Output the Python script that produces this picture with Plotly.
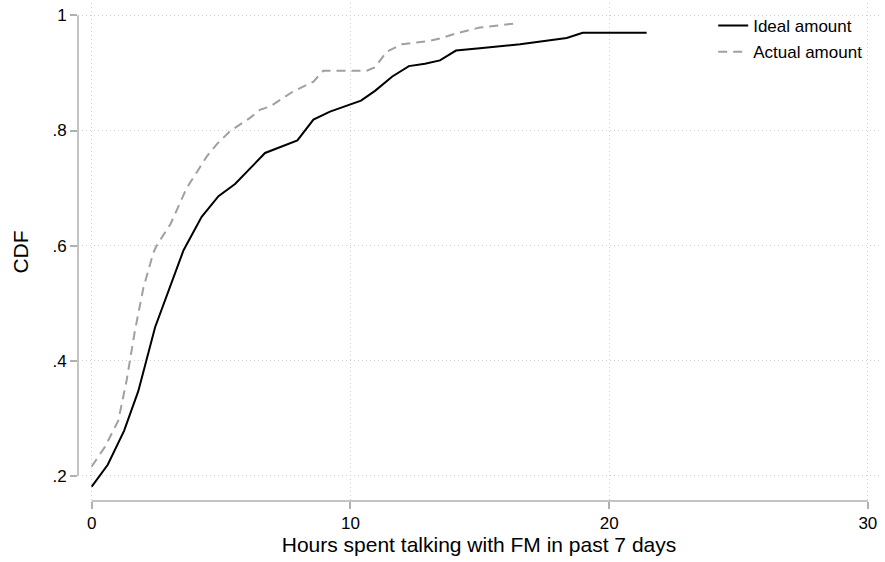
import plotly.graph_objects as go

# Data
ideal_x = [0, 0.62, 1.25, 1.8, 2.45, 3.03, 3.55, 4.25, 4.9, 5.54, 6.7, 7.95, 8.57,
           9.21, 9.98, 10.41, 10.95, 11.62, 12.26, 12.88, 13.46, 14.08, 15.0, 16.56,
           18.36, 18.98, 21.45]
ideal_y = [0.181, 0.219, 0.278, 0.347, 0.458, 0.530, 0.592, 0.650, 0.686, 0.707, 0.761,
           0.783, 0.819, 0.833, 0.845, 0.852, 0.869, 0.894, 0.912, 0.916, 0.922, 0.939,
           0.943, 0.950, 0.961, 0.970, 0.970]

actual_x = [0, 0.51, 1.03, 1.35, 1.67, 2.0, 2.38, 2.51, 3.05, 3.67, 4.45, 4.83, 5.35,
            6.12, 6.5, 6.9, 7.79, 8.57, 8.95, 10.63, 10.95, 11.4, 12.0, 13.08, 13.46,
            14.1, 15.0, 16.35]
actual_y = [0.216, 0.250, 0.296, 0.366, 0.452, 0.527, 0.587, 0.600, 0.638, 0.700, 0.755,
            0.776, 0.799, 0.822, 0.836, 0.842, 0.868, 0.885, 0.904, 0.904, 0.910, 0.937,
            0.950, 0.956, 0.960, 0.969, 0.979, 0.986]

x_ticks = [0, 10, 20, 30]
x_tick_labels = ["0", "10", "20", "30"]
y_ticks = [0.2, 0.4, 0.6, 0.8, 1.0]
y_tick_labels = [".2", ".4", ".6", ".8", "1"]

FONT = "Liberation Sans, Arial, sans-serif"
AXIS_COLOR = "#b0b0b0"
GRID_COLOR = "#cfcfcf"

fig = go.Figure()
fig.add_trace(go.Scatter(x=ideal_x, y=ideal_y, mode="lines", name="Ideal amount",
                         legendgroup="a",
                         line=dict(color="black", width=2)))
fig.add_trace(go.Scatter(x=actual_x, y=actual_y, mode="lines", name="Actual amount",
                         legendgroup="b",
                         line=dict(color="#a0a0a0", width=2, dash="9px,6px")))

fig.update_layout(
    width=885, height=562,
    margin=dict(l=78, r=5, t=3, b=61),
    paper_bgcolor="white", plot_bgcolor="white",
    font=dict(family=FONT, size=17, color="black"),
    legend=dict(x=0.792, y=0.99, xanchor="left", yanchor="top",
                bgcolor="rgba(0,0,0,0)", borderwidth=0,
                font=dict(size=17), tracegroupgap=1, traceorder="grouped"),
    xaxis=dict(range=[-0.53, 30.47], tickvals=x_ticks, ticktext=x_tick_labels,
               showline=False, zeroline=False, showgrid=True,
               gridcolor=GRID_COLOR, griddash="1px,3px", gridwidth=1,
               ticks="outside", ticklen=7, tickcolor=AXIS_COLOR, tickwidth=1.5,
               tickfont=dict(size=17),
               title=dict(text="Hours spent talking with FM in past 7 days",
                          font=dict(size=21), standoff=3)),
    yaxis=dict(range=[0.156, 1.0217], tickvals=y_ticks, ticktext=y_tick_labels,
               showline=False, zeroline=False, showgrid=True,
               gridcolor=GRID_COLOR, griddash="1px,3px", gridwidth=1,
               ticks="outside", ticklen=7, tickcolor=AXIS_COLOR, tickwidth=1.5,
               tickfont=dict(size=17),
               title=dict(text="CDF", font=dict(size=21), standoff=18)),
)

# Stata-style axis lines spanning only the tick range
fig.add_shape(type="line", xref="paper", yref="y", x0=0, x1=0,
              y0=y_ticks[0], y1=y_ticks[-1],
              line=dict(color=AXIS_COLOR, width=1.5))
fig.add_shape(type="line", xref="x", yref="paper", x0=x_ticks[0], x1=x_ticks[-1],
              y0=0, y1=0, line=dict(color=AXIS_COLOR, width=1.5))

fig.write_html("out.html")
